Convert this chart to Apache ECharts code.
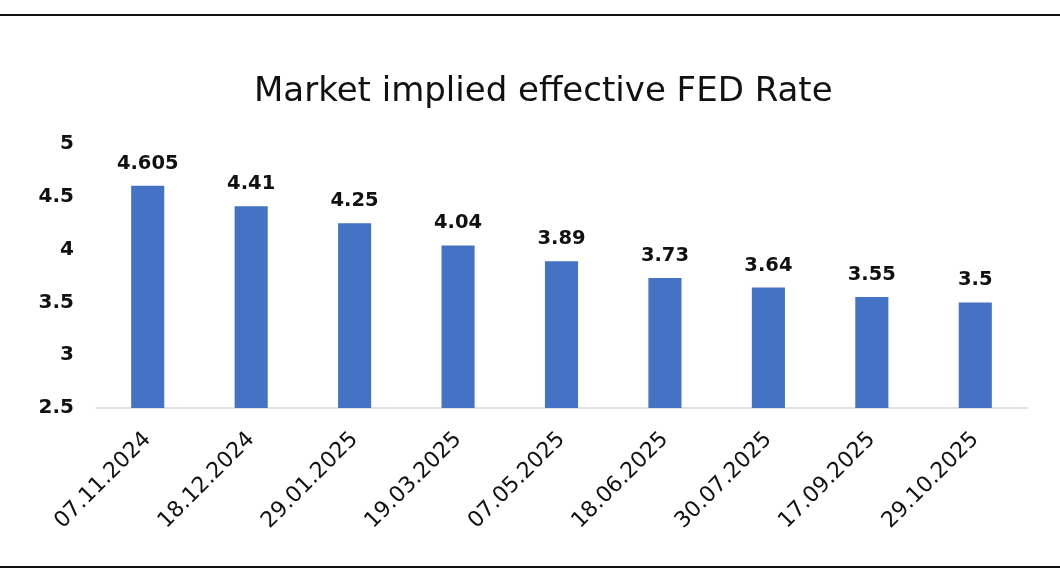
<!DOCTYPE html>
<html lang="en">
<head>
    <meta charset="UTF-8">
    <title>Market implied effective FED Rate</title>
    <script src="https://cdn.jsdelivr.net/npm/echarts@6/dist/echarts.min.js"></script>
    <style>
        body { margin: 0; background: #fff; }
        .rule { position: absolute; left: 0; width: 1060px; height: 2px; background: #111; }
    </style>
</head>
<body>
<div class="rule" style="top: 14px;"></div>
<div id="chart" style="position: absolute; left: 0; top: 0; width: 1060px; height: 569px;"></div>
<div class="rule" style="top: 566px;"></div>

<script type="text/javascript">
    // meeting dates and implied rates
    var dates = ['07.11.2024', '18.12.2024', '29.01.2025', '19.03.2025', '07.05.2025',
                 '18.06.2025', '30.07.2025', '17.09.2025', '29.10.2025'];
    var rates = [4.605, 4.41, 4.25, 4.04, 3.89, 3.73, 3.64, 3.55, 3.5];

    var font = 'DejaVu Sans';
    var chart = echarts.init(document.getElementById('chart'));

    var option = {
        animation: false,
        title: {
            text: 'Market implied effective FED Rate',
            left: 249,
            top: 70,
            textStyle: { fontFamily: font, fontSize: 34, fontWeight: 'normal', color: '#111' }
        },
        grid: { left: 96, right: 33, top: 144, bottom: 161 },
        xAxis: {
            type: 'category',
            data: dates,
            axisLine: { lineStyle: { color: '#d9d9d9', width: 1.5 } },
            axisTick: { show: false },
            axisLabel: {
                rotate: 45,
                margin: 28,
                interval: 0,
                fontFamily: font,
                fontSize: 22,
                color: '#111'
            }
        },
        yAxis: {
            type: 'value',
            min: 2.5,
            max: 5,
            interval: 0.5,
            splitLine: { show: false },
            axisLine: { show: false },
            axisTick: { show: false },
            axisLabel: {
                margin: 22,
                fontFamily: font,
                fontSize: 20,
                fontWeight: 'bold',
                color: '#111'
            }
        },
        series: [{
            type: 'bar',
            data: rates,
            barWidth: '32%',
            itemStyle: { color: '#4472c4' },
            label: {
                show: true,
                position: 'top',
                distance: 12,
                fontFamily: font,
                fontSize: 19.5,
                fontWeight: 'bold',
                color: '#111'
            }
        }]
    };

    chart.setOption(option);
</script>
</body>
</html>
